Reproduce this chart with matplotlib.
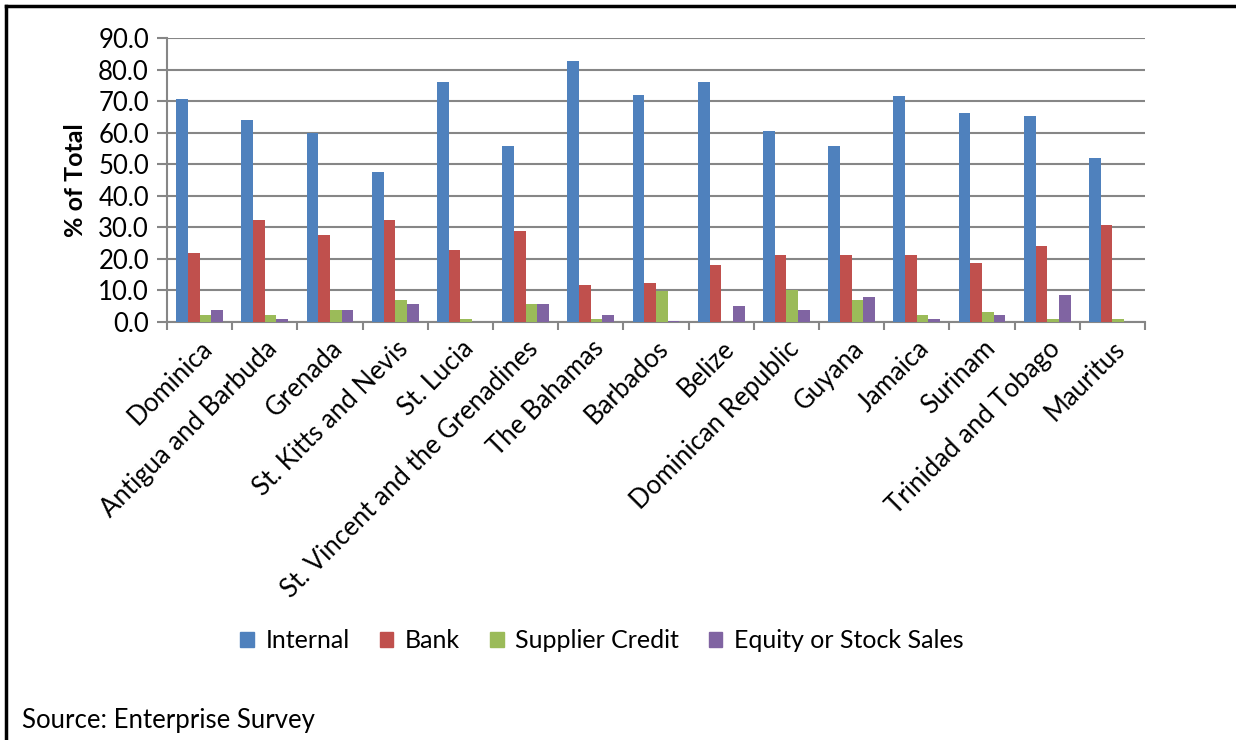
import numpy as np
import matplotlib.pyplot as plt
from matplotlib.lines import Line2D

countries = ['Dominica', 'Antigua and Barbuda', 'Grenada', 'St. Kitts and Nevis',
             'St. Lucia', 'St. Vincent and the Grenadines', 'The Bahamas', 'Barbados',
             'Belize', 'Dominican Republic', 'Guyana', 'Jamaica', 'Surinam',
             'Trinidad and Tobago', 'Mauritus']
internal = [70.8, 64.1, 60.1, 47.7, 76.3, 56.0, 82.9, 72.2, 76.3, 60.7, 56.0, 71.6, 66.3, 65.5, 52.0]
bank = [22.0, 32.2, 27.5, 32.2, 22.7, 28.8, 11.8, 12.5, 18.0, 21.4, 21.4, 21.4, 18.6, 24.0, 30.8]
supplier = [2.3, 2.3, 3.7, 7.1, 1.0, 5.7, 1.0, 9.9, 0.0, 10.0, 7.1, 2.3, 3.0, 1.0, 1.0]
equity = [3.7, 1.0, 3.7, 5.7, 0.0, 5.7, 2.3, 0.3, 5.1, 3.7, 7.8, 1.0, 2.3, 8.4, 0.0]

series = [('Internal', internal, '#4F81BD'),
          ('Bank', bank, '#C0504D'),
          ('Supplier Credit', supplier, '#9BBB59'),
          ('Equity or Stock Sales', equity, '#8064A2')]

plt.rcParams['font.family'] = ['Lato', 'DejaVu Sans']

fig = plt.figure(figsize=(12.36, 7.4), dpi=100)
ax = fig.add_axes([0.1351, 0.565, 0.7913, 0.383])

x = np.arange(len(countries))
w = 0.179
for i, (name, vals, col) in enumerate(series):
    ax.bar(x + (i - 1.5) * w, vals, w, color=col, label=name, zorder=3)

ax.set_xlim(-0.5, len(countries) - 0.5)
ax.set_ylim(0, 90)
ax.set_yticks(np.arange(0, 91, 10))
ax.set_yticklabels([f'{v:.1f}' for v in np.arange(0, 91, 10)], fontsize=18.5)
ax.yaxis.grid(True, color='#868686', linewidth=1.5, zorder=0)
ax.tick_params(axis='y', length=7, width=1.5, color='#868686', pad=6)

ax.set_xticks(x)
ax.set_xticklabels(countries, rotation=45, ha='right', rotation_mode='anchor', fontsize=18.5)
ax.tick_params(axis='x', length=0, pad=10)
ax.set_xticks(np.arange(-0.5, len(countries), 1), minor=True)
ax.tick_params(axis='x', which='minor', length=6, width=1.5, color='#868686')

for s in ['top', 'right']:
    ax.spines[s].set_visible(False)
for s in ['left', 'bottom']:
    ax.spines[s].set_color('#868686')
    ax.spines[s].set_linewidth(1.5)

ax.set_ylabel('% of Total', fontsize=18, fontweight='bold', labelpad=8)

handles = [plt.Rectangle((0, 0), 1, 1, color=c) for _, _, c in series]
fig.legend(handles, [n for n, _, _ in series], loc='center', bbox_to_anchor=(0.487, 0.134),
           ncol=4, frameon=False, fontsize=18, handlelength=0.55, handleheight=0.55,
           handletextpad=0.45, columnspacing=1.2)

fig.text(0.018, 0.027, 'Source: Enterprise Survey', fontsize=18.5, va='center')

# border lines (top and left)
fig.add_artist(Line2D([0.005, 0.005], [0, 0.992], color='black', linewidth=2.5, transform=fig.transFigure))
fig.add_artist(Line2D([0.005, 1.0], [0.992, 0.992], color='black', linewidth=2.5, transform=fig.transFigure))

fig.savefig('out.png', dpi=100)
